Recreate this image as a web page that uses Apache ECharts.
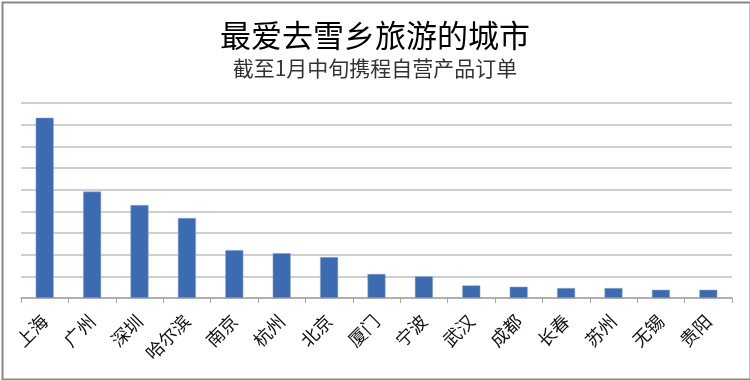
<!DOCTYPE html>
<html>
<head>
<meta charset="utf-8">
<script src="https://cdn.jsdelivr.net/npm/echarts@6/dist/echarts.min.js"></script>
<style>html,body{margin:0;padding:0;background:#fff}#c{width:750px;height:380px}</style>
</head>
<body>
<div id="c"></div>
<script>
var titleText = '最爱去雪乡旅游的城市';
var subtitleText = '截至1月中旬携程自营产品订单';
var categories = ['上海','广州','深圳','哈尔滨','南京','杭州','北京','厦门','宁波','武汉','成都','长春','苏州','无锡','贵阳'];
var values = [8.32, 4.91, 4.29, 3.69, 2.21, 2.07, 1.89, 1.11, 1.0, 0.58, 0.52, 0.46, 0.46, 0.38, 0.38];

var chart = echarts.init(document.getElementById('c'), null, {renderer: 'canvas'});
var font = '"Noto Sans CJK SC", "Noto Sans", sans-serif';
chart.setOption({
  animation: false,
  backgroundColor: '#fff',
  textStyle: {fontFamily: font},
  title: [
    {text: titleText, left: 'center', top: 15, textStyle: {fontSize: 31, fontWeight: 'normal', color: '#000', fontFamily: font}},
    {text: subtitleText, left: 'center', top: 53, textStyle: {fontSize: 21, fontWeight: 'normal', color: '#333', fontFamily: font}}
  ],
  graphic: [{
    type: 'rect', left: 0, top: 0, z: 100, silent: true,
    shape: {x: 1, y: 1, width: 748, height: 377},
    style: {fill: 'none', stroke: '#888', lineWidth: 2}
  }],
  grid: {left: 21, right: 18, top: 103, bottom: 82},
  xAxis: {
    type: 'category', data: categories,
    axisLine: {lineStyle: {color: '#a6a6a6', width: 1.5}},
    axisTick: {show: true, length: 5, alignWithLabel: false, lineStyle: {color: '#a6a6a6'}},
    axisLabel: {rotate: 45, margin: 20, fontSize: 18, color: '#111', fontFamily: font, interval: 0}
  },
  yAxis: {
    type: 'value', min: 0, max: 9, interval: 1,
    axisLine: {show: false}, axisTick: {show: false}, axisLabel: {show: false},
    splitLine: {lineStyle: {color: '#bfbfbf', width: 1.5}}
  },
  series: [{
    type: 'bar', data: values, barWidth: 18,
    itemStyle: {color: '#3d6bb1', borderColor: '#8eaad8', borderWidth: 0.5}
  }]
});
</script>
</body>
</html>
